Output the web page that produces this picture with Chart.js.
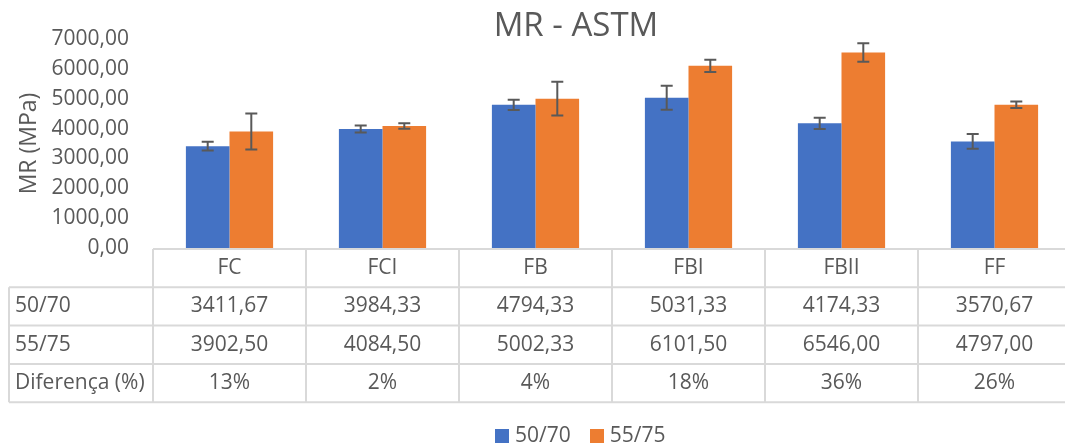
<!DOCTYPE html>
<html>
<head>
<meta charset="utf-8">
<script src="https://cdn.jsdelivr.net/npm/chart.js@4/dist/chart.umd.min.js"></script>
<style>
  body { margin: 0; background: #fff; }
  .wrap { position: relative; width: 1065px; height: 443px; overflow: hidden; font-family: "Open Sans", sans-serif; color: #595959; }
  .wrap canvas { position: absolute; left: 0; top: 0; }
  .title { position: absolute; left: 376px; width: 400px; top: 2px; text-align: center; font-size: 33px; line-height: 44px; }
  .legend { position: absolute; left: 495px; top: 420px; font-size: 21px; line-height: 28px; white-space: nowrap; }
  .legend span.box { display: inline-block; width: 14px; height: 14px; margin-right: 6px; vertical-align: -1px; }
  .legend span.item { margin-right: 19px; }
</style>
</head>
<body>
<div class="wrap">
  <canvas id="mr-chart" width="1075" height="443"></canvas>
  <div class="title">MR - ASTM</div>
  <div class="legend">
    <span class="item"><span class="box" style="background:#4472C4"></span>50/70</span><span class="item"><span class="box" style="background:#ED7D31"></span>55/75</span>
  </div>
</div>
<script>
const categories = ['FC', 'FCI', 'FB', 'FBI', 'FBII', 'FF'];
const mr5070 = [3411.67, 3984.33, 4794.33, 5031.33, 4174.33, 3570.67];
const mr5575 = [3902.50, 4084.50, 5002.33, 6101.50, 6546.00, 4797.00];
const err5070 = [150, 115, 170, 405, 185, 245];
const err5575 = [600, 90, 565, 205, 310, 110];
const diffLabels = ['13%', '2%', '4%', '18%', '36%', '26%'];
const yTicks = [0, 1000, 2000, 3000, 4000, 5000, 6000, 7000];

const textColor = '#595959';
const lineColor = '#D9D9D9';
const fmt = v => v.toFixed(2).replace('.', ',');

// error bars drawn on top of each bar
const errorBars = {
  id: 'errorBars',
  afterDatasetsDraw(chart) {
    const { ctx, scales: { y } } = chart;
    const errs = [err5070, err5575];
    ctx.save();
    ctx.strokeStyle = '#595959';
    ctx.lineWidth = 2;
    chart.data.datasets.forEach((ds, di) => {
      chart.getDatasetMeta(di).data.forEach((bar, i) => {
        const v = ds.data[i];
        const top = y.getPixelForValue(v + errs[di][i]);
        const bot = y.getPixelForValue(v - errs[di][i]);
        ctx.beginPath();
        ctx.moveTo(bar.x, top); ctx.lineTo(bar.x, bot);
        ctx.moveTo(bar.x - 6, top); ctx.lineTo(bar.x + 6, top);
        ctx.moveTo(bar.x - 6, bot); ctx.lineTo(bar.x + 6, bot);
        ctx.stroke();
      });
    });
    ctx.restore();
  }
};

// data table under the plot, columns follow the category scale
const dataTable = {
  id: 'dataTable',
  afterDraw(chart) {
    const { ctx, chartArea, scales: { x } } = chart;
    const colW = (chartArea.right - chartArea.left) / categories.length;
    const top = chartArea.bottom + 1;
    const rowH = 38.3;
    const tableLeft = 9;
    const rows = [
      { label: '50/70', cells: mr5070.map(fmt) },
      { label: '55/75', cells: mr5575.map(fmt) },
      { label: 'Diferença (%)', cells: diffLabels }
    ];
    ctx.save();
    ctx.strokeStyle = lineColor;
    ctx.lineWidth = 2;
    ctx.beginPath();
    // horizontal rules
    ctx.moveTo(chartArea.left, top); ctx.lineTo(chartArea.right, top);
    for (let r = 1; r <= rows.length + 1; r++) {
      const yy = top + r * rowH;
      ctx.moveTo(tableLeft, yy); ctx.lineTo(chartArea.right, yy);
    }
    // vertical rules
    ctx.moveTo(tableLeft, top + rowH); ctx.lineTo(tableLeft, top + (rows.length + 1) * rowH);
    for (let c = 0; c <= categories.length; c++) {
      const xx = chartArea.left + c * colW;
      ctx.moveTo(xx, top); ctx.lineTo(xx, top + (rows.length + 1) * rowH);
    }
    ctx.stroke();

    ctx.fillStyle = textColor;
    ctx.font = '21px "Open Sans"';
    ctx.textBaseline = 'middle';
    ctx.textAlign = 'center';
    categories.forEach((c, i) => ctx.fillText(c, x.getPixelForValue(i), top + rowH / 2));
    rows.forEach((row, r) => {
      const cy = top + (r + 1) * rowH + rowH / 2;
      ctx.textAlign = 'left';
      ctx.fillText(row.label, tableLeft + 6, cy);
      ctx.textAlign = 'center';
      row.cells.forEach((t, i) => ctx.fillText(t, x.getPixelForValue(i), cy));
    });
    ctx.restore();
  }
};

new Chart(document.getElementById('mr-chart'), {
  type: 'bar',
  data: {
    labels: categories,
    datasets: [
      { label: '50/70', data: mr5070, backgroundColor: '#4472C4', categoryPercentage: 0.57, barPercentage: 1 },
      { label: '55/75', data: mr5575, backgroundColor: '#ED7D31', categoryPercentage: 0.57, barPercentage: 1 }
    ]
  },
  options: {
    responsive: false,
    animation: false,
    layout: { padding: { top: 39, left: 0, right: 4, bottom: 0 } },
    plugins: {
      legend: { display: false },
      title: { display: false },
      tooltip: { enabled: false }
    },
    scales: {
      x: {
        grid: { display: false, drawTicks: false },
        border: { display: false },
        ticks: { display: false },
        afterFit: scale => { scale.height = 195; }
      },
      y: {
        min: 0,
        max: 7000,
        afterBuildTicks: scale => { scale.ticks = yTicks.map(v => ({ value: v })); },
        grid: { display: false, drawTicks: false },
        border: { display: false },
        ticks: {
          color: textColor,
          font: { family: 'Open Sans', size: 21 },
          padding: 24,
          callback: v => fmt(v)
        },
        title: {
          display: true,
          text: 'MR (MPa)',
          color: textColor,
          font: { family: 'Open Sans', size: 23 },
          padding: { top: 16, bottom: 0 }
        },
        afterFit: scale => { scale.width = 153; }
      }
    }
  },
  plugins: [errorBars, dataTable]
});
</script>
</body>
</html>
